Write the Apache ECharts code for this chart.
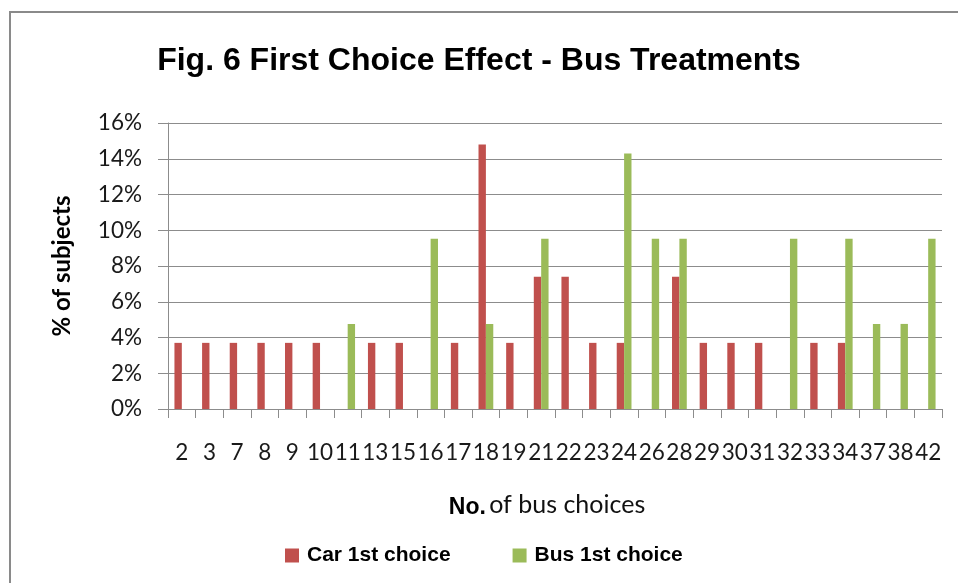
<!DOCTYPE html>
<html>
<head>
<meta charset="utf-8">
<script src="https://cdn.jsdelivr.net/npm/echarts@6/dist/echarts.min.js"></script>
<style>
html,body{margin:0;padding:0;background:#fff;}
#chart{width:958px;height:583px;}
</style>
</head>
<body>
<div id="chart"></div>
<script>
var categories = ['2','3','7','8','9','10','11','13','15','16','17','18','19','21','22','23','24','26','28','29','30','31','32','33','34','37','38','42'];
// Car 1st choice (% of subjects, n=27)
var carFirst = [3.7,3.7,3.7,3.7,3.7,3.7,0,3.7,3.7,0,3.7,14.8,3.7,7.4,7.4,3.7,3.7,0,7.4,3.7,3.7,3.7,0,3.7,3.7,0,0,0];
// Bus 1st choice (% of subjects, n=21)
var busFirst = [0,0,0,0,0,0,4.76,0,0,9.52,0,4.76,0,9.52,0,0,14.29,9.52,9.52,0,0,0,9.52,0,9.52,4.76,4.76,9.52];
var yTicks = [0,2,4,6,8,10,12,14,16];

var chart = echarts.init(document.getElementById('chart'), null, {renderer:'canvas'});
var gridColor = '#8c8c8c';
var option = {
  backgroundColor: '#ffffff',
  animation: false,
  title: {
    text: 'Fig. 6 First Choice Effect - Bus Treatments',
    left: 'center',
    top: 40,
    textStyle: {fontFamily: '"Liberation Sans", Arial, sans-serif', fontWeight: 'bold', fontSize: 32, color: '#000'}
  },
  graphic: [{
    type: 'rect', silent: true, z: -1,
    shape: {x: 10, y: 12, width: 1000, height: 700},
    style: {fill: 'none', stroke: '#8a8a8a', lineWidth: 2}
  }],
  legend: {
    left: 280, top: 540,
    itemWidth: 14, itemHeight: 14, itemGap: 62,
    icon: 'rect',
    textStyle: {fontFamily: '"Liberation Sans", Arial, sans-serif', fontWeight: 'bold', fontSize: 21, color: '#000', padding: [0,0,0,3]},
    data: ['Car 1st choice', 'Bus 1st choice']
  },
  grid: {left: 168, right: 16, top: 123, bottom: 174, containLabel: false},
  xAxis: {
    type: 'category',
    data: categories,
    name: '{a|No.} {b|of bus choices}',
    nameLocation: 'middle',
    nameGap: 82,
    nameTextStyle: {
      padding: [0, 16, 0, 0],
      rich: {
        a: {fontFamily: '"Liberation Sans", Arial, sans-serif', fontWeight: 'bold', fontSize: 23, color: '#000', padding: [5,0,0,0]},
        b: {fontFamily: 'Lato, "Open Sans", sans-serif', fontWeight: 'normal', fontSize: 25, color: '#111'}
      }
    },
    axisLine: {show: true, lineStyle: {color: gridColor, width: 1}},
    axisTick: {show: true, alignWithLabel: false, length: 9, lineStyle: {color: gridColor}},
    axisLabel: {interval: 0, margin: 32, hideOverlap: false, fontFamily: 'Lato, "Open Sans", sans-serif', fontSize: 22.5, color: '#1a1a1a'},
    splitLine: {show: false}
  },
  yAxis: {
    type: 'value',
    min: 0, max: 16, interval: 2,
    name: '% of subjects',
    nameLocation: 'middle',
    nameGap: 94,
    nameTextStyle: {fontFamily: 'Lato, "Open Sans", sans-serif', fontWeight: 'bold', fontSize: 24, color: '#000'},
    axisLine: {show: true, lineStyle: {color: gridColor, width: 1}},
    axisTick: {show: true, length: 10, lineStyle: {color: gridColor}},
    axisLabel: {margin: 26, fontFamily: 'Lato, "Open Sans", sans-serif', fontSize: 22.5, color: '#1a1a1a',
      formatter: function (v) { return yTicks.indexOf(v) >= 0 ? v + '%' : ''; }},
    splitLine: {show: true, lineStyle: {color: gridColor, width: 1}}
  },
  series: [
    {name: 'Car 1st choice', type: 'bar', data: carFirst, barGap: '0%', barCategoryGap: '46.6%',
     itemStyle: {color: '#C0504D'}},
    {name: 'Bus 1st choice', type: 'bar', data: busFirst, barGap: '0%', barCategoryGap: '46.6%',
     itemStyle: {color: '#9BBB59'}}
  ]
};
chart.setOption(option);
</script>
</body>
</html>
